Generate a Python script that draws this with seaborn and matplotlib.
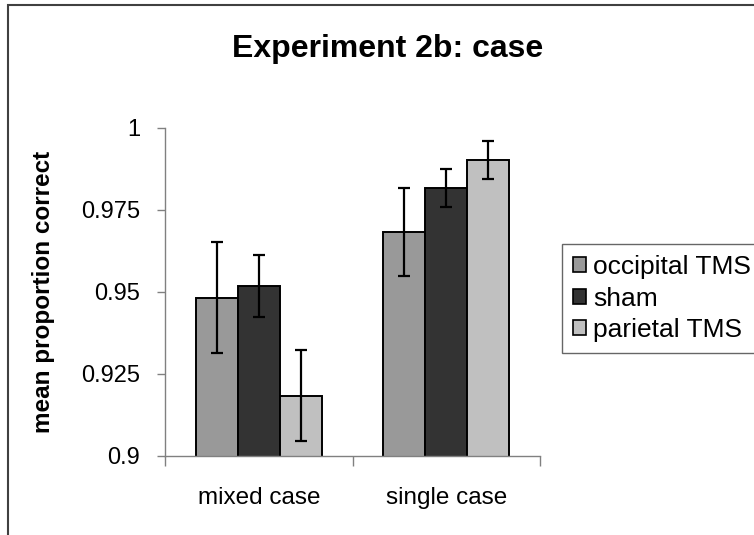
import matplotlib
matplotlib.use("Agg")
import matplotlib.pyplot as plt
import matplotlib.patches as mpatches
import pandas as pd
import seaborn as sns

# values
cases = ["mixed case", "single case"]
conditions = ["occipital TMS", "sham", "parietal TMS"]
occipital = [0.9483, 0.9684]
sham = [0.9519, 0.9818]
parietal = [0.9184, 0.9903]
occipital_err = [0.0170, 0.0134]
sham_err = [0.0094, 0.0058]
parietal_err = [0.0138, 0.0058]
colors = ["#999999", "#333333", "#c0c0c0"]

df = pd.DataFrame({
    "case": cases * 3,
    "condition": [c for c in conditions for _ in cases],
    "value": occipital + sham + parietal,
    "err": occipital_err + sham_err + parietal_err,
})

sns.set_style("white")
plt.rcParams["font.family"] = ["Liberation Sans", "DejaVu Sans"]
plt.rcParams["text.color"] = "black"
plt.rcParams["xtick.color"] = "black"
plt.rcParams["ytick.color"] = "black"
plt.rcParams["axes.labelcolor"] = "black"

fig = plt.figure(figsize=(7.54, 5.35), dpi=100)
ax = fig.add_axes([165/754, 1-456/535, 375/754, 328/535])

sns.barplot(data=df, x="case", y="value", hue="condition", order=cases,
            hue_order=conditions, palette=colors, width=0.67, errorbar=None,
            edgecolor="black", linewidth=1.4, saturation=1, ax=ax)

# error bars at the bar centres
for bars, cond in zip(ax.containers, conditions):
    sub = df[df.condition == cond].set_index("case").loc[cases]
    xs = [b.get_x() + b.get_width()/2 for b in bars]
    ax.errorbar(xs, sub["value"], yerr=sub["err"], fmt="none", ecolor="black",
                elinewidth=1.6, capsize=4.5, capthick=1.6, zorder=5)

ax.set_ylim(0.9, 1.0)
ax.set_xlim(-0.5, 1.5)
ax.set_yticks([0.9, 0.925, 0.95, 0.975, 1.0])
ax.set_yticklabels(["0.9", "0.925", "0.95", "0.975", "1"])
ax.set_xticks([-0.5, 0.5, 1.5], minor=True)
ax.tick_params(axis="y", direction="out", length=6, width=1, color="#808080",
               labelsize=17, pad=12, left=True, labelcolor="black")
ax.tick_params(axis="x", which="major", length=0, labelsize=17.5, pad=22,
               labelcolor="black")
ax.tick_params(axis="x", which="minor", direction="out", length=7, width=1,
               color="#808080", bottom=True)
sns.despine(ax=ax)
for s in ["left", "bottom"]:
    ax.spines[s].set_color("#808080")
    ax.spines[s].set_linewidth(1)

ax.set_xlabel("")
ax.set_ylabel("mean proportion correct", fontsize=17.5, fontweight="bold",
              color="black")
ax.yaxis.set_label_coords(-0.293, 0.5)

fig.text(0.514, 1-57/535, "Experiment 2b: case", fontsize=23, fontweight="bold",
         ha="center", va="baseline", color="black")

handles = [mpatches.Patch(facecolor=c, edgecolor="black", linewidth=1.2) for c in colors]
leg = ax.legend(handles, conditions, loc="lower left",
                bbox_to_anchor=(562/754, 1-353/535), bbox_transform=fig.transFigure,
                frameon=True, fancybox=False, edgecolor="#404040", fontsize=19,
                handlelength=0.5, handleheight=0.5, handletextpad=0.25,
                labelspacing=0.28, borderpad=0.42, borderaxespad=0)
leg.get_frame().set_linewidth(1)
for t in leg.get_texts():
    t.set_color("black")

# outer chart border (cut off on the right and bottom)
fig.patches.append(mpatches.Rectangle((8/754, -0.1), 1.2, 1.1 - 5/535,
                                      transform=fig.transFigure, fill=False,
                                      edgecolor="#404040", linewidth=1.5))

fig.savefig("out.png", dpi=100)
